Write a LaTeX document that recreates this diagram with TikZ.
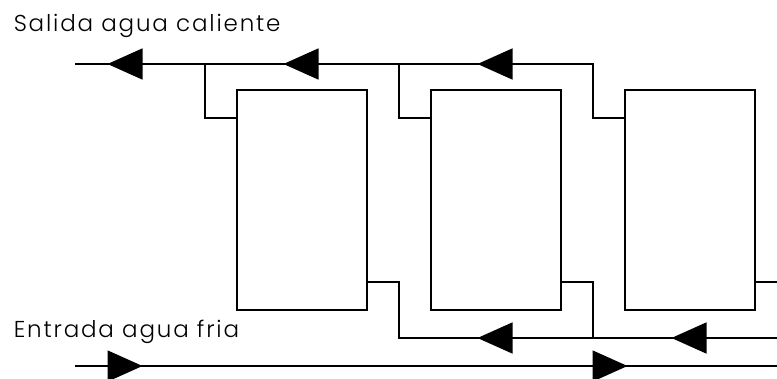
\documentclass[tikz,border=0pt]{standalone}
\usepackage{fontspec}
\setmainfont[LetterSpace=8]{Poppins Light}
\usetikzlibrary{arrows.meta,positioning}

\begin{document}
\begin{tikzpicture}[x=1pt, y=-1pt, node distance=194pt, on grid, line width=1.5pt,
		tank/.style={draw, rectangle, minimum width=130pt, minimum height=220pt, inner sep=0pt},
		flow/.style={-{Triangle[length=35pt, width=31pt]}, shorten >=0pt},
		label/.style={anchor=base west, inner sep=0pt, font=\fontsize{23}{25}\selectfont}]
	\useasboundingbox (0,0) rectangle (777,379);

	\node[tank] (tank_1) at (302,200) {};
	\node[tank] (tank_2) [right=of tank_1] {};
	\node[tank] (tank_3) [right=of tank_2] {};

	\node[label] (hot_text) at (13,32) {Salida agua caliente};
	\node[label] (cold_text) at (13,338) {Entrada agua fria};

	% hot water line
	\coordinate (hot_end) at (75,64);
	\coordinate (hot_tip_1) at (107.5,64);
	\coordinate (hot_join_1) at (205,64);
	\coordinate (hot_tip_2) at (283.5,64);
	\coordinate (hot_join_2) at (399,64);
	\coordinate (hot_tip_3) at (477.5,64);
	\coordinate (hot_join_3) at (593,64);
	\coordinate (hot_out_1) at (205,118);
	\coordinate (hot_out_2) at (399,118);
	\coordinate (hot_out_3) at (593,118);

	% return line
	\coordinate (ret_out_1) at (399,282);
	\coordinate (ret_out_2) at (593,282);
	\coordinate (ret_out_3) at (777,282);
	\coordinate (ret_join_1) at (399,338);
	\coordinate (ret_tip_1) at (477.5,338);
	\coordinate (ret_join_2) at (593,338);
	\coordinate (ret_tip_2) at (671.5,338);
	\coordinate (ret_end) at (777,338);

	% cold water line
	\coordinate (cold_start) at (75,366);
	\coordinate (cold_tip_1) at (142.5,366);
	\coordinate (cold_tip_2) at (627.5,366);
	\coordinate (cold_end) at (777,366);

	\draw (hot_end) -- (hot_join_3) -- (hot_out_3) -- (hot_out_3 -| tank_3.west);
	\draw[flow] (hot_join_1) -- (hot_tip_1);
	\draw[flow] (hot_join_2) -- (hot_tip_2);
	\draw[flow] (hot_join_3) -- (hot_tip_3);

	\draw (hot_join_1) -- (hot_out_1) -- (hot_out_1 -| tank_1.west);
	\draw (hot_join_2) -- (hot_out_2) -- (hot_out_2 -| tank_2.west);

	\draw (ret_out_1 -| tank_1.east) -- (ret_out_1) -- (ret_join_1) -- (ret_end);
	\draw (ret_out_2 -| tank_2.east) -- (ret_out_2) -- (ret_join_2);
	\draw (ret_out_3 -| tank_3.east) -- (ret_out_3);
	\draw[flow] (ret_join_2) -- (ret_tip_1);
	\draw[flow] (ret_end) -- (ret_tip_2);

	\draw (cold_start) -- (cold_end);
	\draw[flow] (cold_start) -- (cold_tip_1);
	\draw[flow] (cold_tip_1) -- (cold_tip_2);
\end{tikzpicture}
\end{document}
